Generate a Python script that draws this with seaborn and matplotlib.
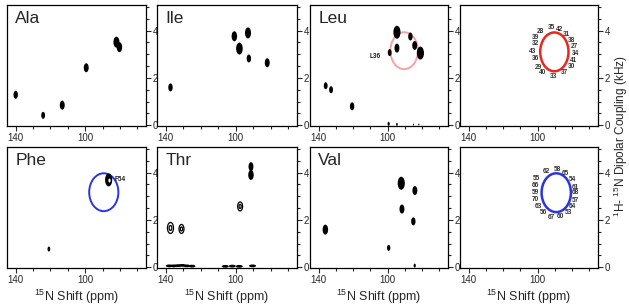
import matplotlib
matplotlib.use("Agg")
import matplotlib.pyplot as plt
from matplotlib.patches import Ellipse
from matplotlib.path import Path
from matplotlib.ticker import FixedLocator, MultipleLocator
import numpy as np
import seaborn as sns

# peaks: 15N shift (ppm), 1H-15N dipolar coupling (kHz), peak size
ala_x = [140.0, 124.2, 113.2, 99.4, 82.0, 80.3]
ala_y = [1.29, 0.42, 0.85, 2.43, 3.51, 3.30]
ala_h = [8, 7, 9, 9, 11, 10]

ile_x = [137.3, 100.8, 97.9, 93.0, 92.5, 82.0]
ile_y = [1.60, 3.76, 3.24, 3.90, 2.82, 2.64]
ile_h = [8, 10, 12, 11, 8, 9]

leu_x = [135.9, 132.8, 120.6, 98.8, 94.6, 94.6, 86.8, 84.3, 81.0, 99.4, 94.6, 85.0, 81.9]
leu_y = [1.67, 1.50, 0.80, 3.07, 3.93, 3.26, 3.75, 3.37, 3.05, 0.06, 0.04, 0.03, 0.03]
leu_h = [7, 7, 8, 7, 13, 9, 8, 9, 13, 4, 3, 2, 2]

phe_x = [120.9, 86.5]
phe_y = [0.77, 3.69]
phe_h = [5, 13]

thr_x = [91.3, 91.3]
thr_y = [4.25, 3.90]
thr_h = [9, 10]
thr_ring_x = [137.3, 131.0, 97.5]
thr_ring_y = [1.66, 1.62, 2.57]
thr_ring_h = [11, 9, 9]
thr_base_x = [138.0, 135.5, 133.0, 130.5, 128.0, 125.0, 106.0, 102.0, 98.0, 90.4]
thr_base_y = [0.06, 0.06, 0.07, 0.08, 0.06, 0.05, 0.04, 0.05, 0.04, 0.06]

val_x = [136.1, 99.4, 92.1, 91.7, 84.2, 85.1, 84.3]
val_y = [1.59, 0.82, 3.55, 2.46, 3.24, 1.94, 0.07]
val_h = [10, 6, 13, 9, 9, 8, 4]

# PISA wheels: centre and half-axes
wheel_leu = (90.4, 3.15, 8.0, 0.78)
wheel_red = (90.3, 3.10, 8.2, 0.82)
wheel_phe = (89.3, 3.17, 8.4, 0.80)
wheel_blue = (89.2, 3.15, 8.5, 0.82)

# residue labels around the wheels
red_res = ["28", "35", "42", "31", "39", "38", "32", "27", "43", "34",
           "36", "41", "29", "30", "40", "37", "33"]
red_res_x = [98.6, 91.7, 87.0, 83.0, 101.0, 80.1, 101.5, 78.9, 102.7, 78.3,
             101.5, 78.9, 99.8, 80.1, 96.9, 84.7, 91.1]
red_res_y = [3.96, 4.13, 4.04, 3.83, 3.71, 3.58, 3.46, 3.33, 3.13, 3.04,
             2.83, 2.75, 2.46, 2.50, 2.25, 2.21, 2.08]

blue_res = ["62", "58", "65", "54", "55", "66", "61", "68", "59", "70",
            "57", "64", "63", "56", "53", "67", "60"]
blue_res_x = [95.1, 88.4, 84.0, 79.9, 100.4, 101.3, 78.3, 77.9, 101.3, 101.1,
              78.3, 79.6, 99.8, 96.9, 82.1, 92.2, 87.0]
blue_res_y = [4.03, 4.14, 3.94, 3.70, 3.74, 3.47, 3.39, 3.15, 3.15, 2.87,
              2.83, 2.57, 2.56, 2.30, 2.32, 2.12, 2.14]

x_major = [140, 100, 60]

sns.set_style("ticks")
plt.rcParams["font.family"] = ["Liberation Sans", "DejaVu Sans"]
plt.rcParams["mathtext.fontset"] = "custom"
plt.rcParams["mathtext.rm"] = "Liberation Sans"
plt.rcParams["mathtext.default"] = "regular"

circ = Path.unit_circle()
VPEAK = Path(circ.vertices * [0.55, 1.0], circ.codes)
HPEAK = Path(circ.vertices * [1.0, 0.4], circ.codes)


def px2s(h):
    # peak height in pixels -> marker area in points^2
    return (np.asarray(h) * 0.72) ** 2


def peaks(ax, x, y, h):
    sns.scatterplot(ax=ax, x=x, y=y, s=px2s(h), marker=VPEAK, color="k",
                    edgecolor="k", linewidth=0, legend=False)


def wheel(ax, w, color, lw=1.6):
    cx, cy, rx, ry = w
    ax.add_patch(Ellipse((cx, cy), 2 * rx, 2 * ry, fill=False, ec=color, lw=lw))


def labels(ax, txt, x, y):
    for t, xx, yy in zip(txt, x, y):
        ax.text(xx, yy, t, fontsize=4.7, fontweight="bold", color="#333333",
                ha="center", va="center")


fig = plt.figure(figsize=(6.29, 3.06), dpi=100)
W, H = 629, 306
col_left = [7, 157, 310, 460]
col_w = [139, 140, 138, 138]
row_top = [5, 147]
row_h = 121

axes = []
for r in range(2):
    for c in range(4):
        ax = fig.add_axes([col_left[c] / W, 1 - (row_top[r] + row_h) / H,
                           col_w[c] / W, row_h / H])
        ax.set_xlim(145, 65)
        ax.set_ylim(-0.03, 5.08)
        ax.xaxis.set_major_locator(FixedLocator(x_major))
        ax.xaxis.set_minor_locator(MultipleLocator(10))
        ax.yaxis.set_major_locator(MultipleLocator(2))
        ax.yaxis.set_minor_locator(MultipleLocator(0.5))
        ax.tick_params(which="both", direction="out", left=False, labelleft=False,
                       right=True, labelright=True, top=False, bottom=True,
                       width=0.8, labelsize=7, pad=1.5)
        ax.tick_params(which="major", length=3.5)
        ax.tick_params(which="minor", length=2.5)
        for sp in ax.spines.values():
            sp.set_visible(True)
            sp.set_linewidth(0.9)
            sp.set_color("k")
        ax.set_xlabel("")
        ax.set_ylabel("")
        axes.append(ax)

names = ["Ala", "Ile", "Leu", "", "Phe", "Thr", "Val", ""]
for ax, n in zip(axes, names):
    if n:
        ax.text(0.06, 0.95, n, transform=ax.transAxes, fontsize=12.5,
                ha="left", va="top")

peaks(axes[0], ala_x, ala_y, ala_h)
peaks(axes[1], ile_x, ile_y, ile_h)

wheel(axes[2], wheel_leu, "#f3a3a3", lw=1.4)
peaks(axes[2], leu_x, leu_y, leu_h)
axes[2].text(104.0, 2.89, "L36", fontsize=4.7, fontweight="bold",
             ha="right", va="center", color="#222222")

wheel(axes[3], wheel_red, "#e8281e", lw=1.8)
labels(axes[3], red_res, red_res_x, red_res_y)

wheel(axes[4], wheel_phe, "#2a35e0", lw=1.4)
peaks(axes[4], phe_x, phe_y, phe_h)
sns.scatterplot(ax=axes[4], x=[phe_x[1]], y=[phe_y[1]], s=px2s([4]), marker=VPEAK,
                color="w", edgecolor="w", linewidth=0, legend=False)
axes[4].text(83.0, 3.7, "F54", fontsize=4.7, fontweight="bold",
             ha="left", va="center", color="#222222")

peaks(axes[5], thr_x, thr_y, thr_h)
for k in (1.0, 0.45):
    sns.scatterplot(ax=axes[5], x=thr_ring_x, y=thr_ring_y, s=px2s(thr_ring_h) * k ** 2,
                    marker=VPEAK, facecolor="none", edgecolor="k", linewidth=0.9,
                    legend=False)
sns.scatterplot(ax=axes[5], x=thr_base_x, y=thr_base_y, s=px2s([7] * len(thr_base_x)),
                marker=HPEAK, color="k", edgecolor="k", linewidth=0, legend=False)

peaks(axes[6], val_x, val_y, val_h)

wheel(axes[7], wheel_blue, "#2a35e0", lw=1.8)
labels(axes[7], blue_res, blue_res_x, blue_res_y)

for ax in axes[4:]:
    ax.set_xlabel(r"$^{15}$N Shift (ppm)", fontsize=9, labelpad=2)

fig.text(621 / W, 1 - 136 / H, r"$^{1}$H- $^{15}$N Dipolar Coupling (kHz)",
         rotation=90, ha="center", va="center", fontsize=8.5)

fig.savefig("out.png", dpi=100)
